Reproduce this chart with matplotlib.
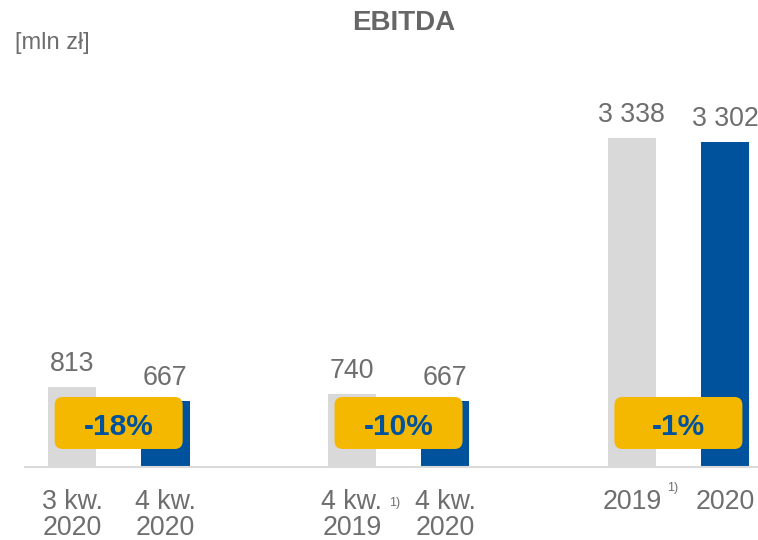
import matplotlib
matplotlib.use("Agg")

import matplotlib.pyplot as plt
from matplotlib.patches import FancyBboxPatch
from matplotlib.transforms import ScaledTranslation

# ---------------------------------------------------------------------------
# Data
# ---------------------------------------------------------------------------
prev_labels = ["3 kw.\n2020", "4 kw.\n2019", "2019"]
curr_labels = ["4 kw.\n2020", "4 kw.\n2020", "2020"]
prev_values = [813, 740, 3338]
curr_values = [667, 667, 3302]
value_text_prev = ["813", "740", "3 338"]
value_text_curr = ["667", "667", "3 302"]
changes = ["-18%", "-10%", "-1%"]
footnote_groups = [1, 2]  # groups with "1)" marker

GRAY = "#d9d9d9"
BLUE = "#00529c"
YELLOW = "#f5b800"
TEXT = "#6e6e6e"

plt.rcParams["font.family"] = ["Liberation Sans", "DejaVu Sans"]

W, H = 758, 540
fig = plt.figure(figsize=(W / 100, H / 100), dpi=100)

# axes placed in pixel terms: baseline at y=467, left edge at x=25
ax = fig.add_axes([25 / W, (H - 467) / H, 1 - 25 / W, 387 / H])
ax.set_xlim(-0.504, 7.353)
ax.set_ylim(0, 3930)

gap = 3.0
width = 0.52
xs_prev = [i * gap for i in range(len(prev_values))]
xs_curr = [i * gap + 1 for i in range(len(curr_values))]

ax.bar(xs_prev, prev_values, width=width, color=GRAY, zorder=2)
ax.bar(xs_curr, curr_values, width=width, color=BLUE, zorder=2)

for x, v, t in zip(xs_prev + xs_curr, prev_values + curr_values,
                   value_text_prev + value_text_curr):
    ax.annotate(t, (x, v), xytext=(0, 11.4), textcoords="offset points",
                ha="center", va="baseline", fontsize=19.3, color=TEXT)

# yellow change badges (fixed size in inches, anchored to data)
for i, txt in enumerate(changes):
    cx = i * gap + 0.5
    tr = fig.dpi_scale_trans + ScaledTranslation(cx, 447, ax.transData)
    box = FancyBboxPatch((-0.64, -0.26), 1.28, 0.52,
                         boxstyle="round,pad=0,rounding_size=0.08",
                         facecolor=YELLOW, edgecolor="none",
                         transform=tr, zorder=4, clip_on=False)
    ax.add_patch(box)
    ax.annotate(txt, (cx, 447), xytext=(0, -3), textcoords="offset points",
                ha="center", va="center", fontsize=21.5, fontweight="bold",
                color=BLUE, zorder=5)

# axis styling
for s in ["top", "right", "left"]:
    ax.spines[s].set_visible(False)
ax.spines["bottom"].set_color(GRAY)
ax.spines["bottom"].set_linewidth(1.5)
ax.set_yticks([])
ax.set_xticks(xs_prev + xs_curr)
ax.set_xticklabels(prev_labels + curr_labels, fontsize=19.3, color=TEXT,
                   linespacing=1.04)
ax.tick_params(axis="x", length=0, pad=15.5)

# footnote markers
for g in footnote_groups:
    if g == 1:
        ax.annotate("1)", (g * gap + 0.46, 0), xytext=(0, -25.9),
                    textcoords="offset points", ha="center", va="center",
                    fontsize=9, color=TEXT)
    else:
        ax.annotate("1)", (g * gap + 0.44, 0), xytext=(0, -15.1),
                    textcoords="offset points", ha="center", va="center",
                    fontsize=9, color=TEXT)

fig.text(404 / W, 1 - 23 / H, "EBITDA", ha="center", va="center",
         fontsize=20, fontweight="bold", color="#666666")
fig.text(15 / W, 1 - 43 / H, "[mln zł]", ha="left", va="center",
         fontsize=17, color=TEXT)

fig.savefig("out.png", dpi=100)
